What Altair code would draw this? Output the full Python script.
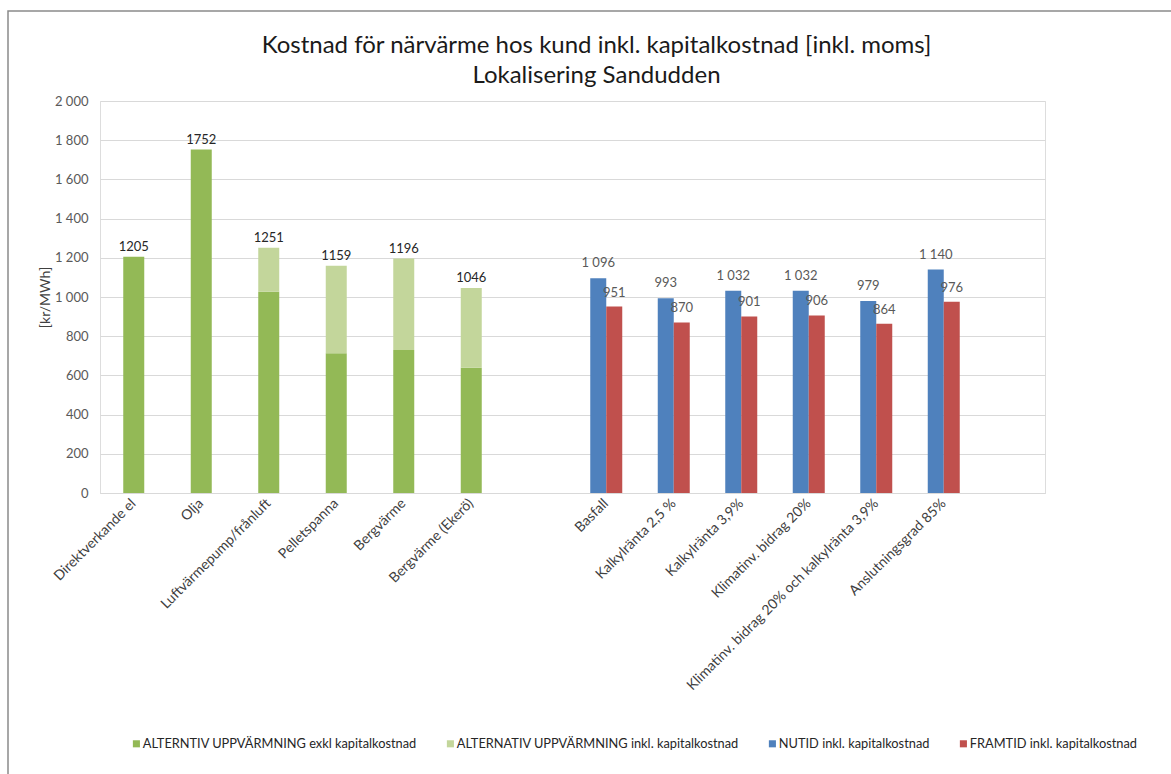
import altair as alt
import pandas as pd

# ---- data ----
left_cats = ["Direktverkande el", "Olja", "Luftvärmepump/frånluft", "Pelletspanna",
             "Bergvärme", "Bergvärme (Ekerö)"]
left_exkl = [1205, 1752, 1027, 713, 730, 639]
left_total = [1205, 1752, 1251, 1159, 1196, 1046]

right_cats = ["Basfall", "Kalkylränta 2,5 %", "Kalkylränta 3,9%", "Klimatinv. bidrag 20%",
              "Klimatinv. bidrag 20% och kalkylränta 3,9%", "Anslutningsgrad 85%"]
nutid = [1096, 993, 1032, 1032, 979, 1140]
framtid = [951, 870, 901, 906, 864, 976]

series_names = ["ALTERNTIV UPPVÄRMNING exkl kapitalkostnad",
                "ALTERNATIV UPPVÄRMNING inkl. kapitalkostnad",
                "NUTID inkl. kapitalkostnad",
                "FRAMTID inkl. kapitalkostnad"]
series_colors = ["#93B956", "#C3D69B", "#4F81BD", "#C0504D"]

y_ticks = [0, 200, 400, 600, 800, 1000, 1200, 1400, 1600, 1800, 2000]

slot_domain = left_cats + [" "] + right_cats + ["  "]

FONT = "Liberation Sans Narrow, Lato, sans-serif"
LFONT = "Lato, sans-serif"

green_dark = pd.DataFrame({"cat": left_cats, "lo": [0] * 6, "hi": left_exkl, "series": series_names[0]})
green_light = pd.DataFrame({"cat": left_cats, "lo": left_exkl, "hi": left_total, "series": series_names[1]})
blue = pd.DataFrame({"cat": right_cats, "lo": [0] * 6, "hi": nutid, "series": series_names[2]})
red = pd.DataFrame({"cat": right_cats, "lo": [0] * 6, "hi": framtid, "series": series_names[3]})

x_enc = alt.X("cat:N", sort=slot_domain,
              scale=alt.Scale(domain=slot_domain, paddingInner=0, paddingOuter=0),
              axis=alt.Axis(title=None, labelAngle=-45, labelAlign="right", labelBaseline="middle",
                            labelFont=LFONT, labelFontSize=14, labelColor="#404040",
                            labelPadding=8, ticks=False, domainColor="#d9d9d9", domainWidth=1,
                            grid=False, labelLimit=400))
y_enc = alt.Y("hi:Q", scale=alt.Scale(domain=[0, 2000], nice=False),
              axis=alt.Axis(title="[kr/MWh]", values=y_ticks,
                            labelExpr="replace(format(datum.value, ','), ',', ' ')",
                            labelFont=LFONT, labelFontSize=13, labelColor="#595959",
                            labelPadding=12, ticks=False, domain=False,
                            gridColor="#d9d9d9", gridWidth=1,
                            titleFont=LFONT, titleFontSize=14, titleFontWeight="normal",
                            titleColor="#404040", titlePadding=2))
color_enc = alt.Color("series:N",
                      scale=alt.Scale(domain=series_names, range=series_colors),
                      legend=alt.Legend(title=None, orient="none", legendX=30, legendY=636,
                                        direction="horizontal", columns=4, columnPadding=27,
                                        symbolType="square", symbolSize=50, symbolStrokeWidth=0,
                                        labelFont=FONT, labelFontSize=12.8, labelColor="#262626",
                                        labelLimit=400, labelOffset=0))

frame = alt.Chart(pd.DataFrame({"k": [0]})).mark_rect(
    fillOpacity=0, stroke="#8a8a8a", strokeWidth=1.5
).encode(x=alt.value(-92), x2=alt.value(1090), y=alt.value(-90), y2=alt.value(700))

b_dark = alt.Chart(green_dark).mark_bar(width=21).encode(x=x_enc, y=y_enc, y2="lo:Q", color=color_enc)
b_light = alt.Chart(green_light).mark_bar(width=21).encode(x=x_enc, y=y_enc, y2="lo:Q", color=color_enc)
b_blue = alt.Chart(blue).mark_bar(width=16, xOffset=-8).encode(x=x_enc, y=y_enc, y2="lo:Q", color=color_enc)
b_red = alt.Chart(red).mark_bar(width=16, xOffset=8).encode(x=x_enc, y=y_enc, y2="lo:Q", color=color_enc)

t_green = alt.Chart(pd.DataFrame({"cat": left_cats, "hi": left_total})).mark_text(
    baseline="bottom", dy=-3, font=LFONT, fontSize=13, color="#262626"
).encode(x=x_enc, y=y_enc, text=alt.Text("hi:Q", format="d"))

t_blue = alt.Chart(blue).transform_calculate(
    lab="replace(format(datum.hi, ','), ',', ' ')"
).mark_text(baseline="bottom", dy=-8, dx=-8, font=LFONT, fontSize=13, color="#595959"
).encode(x=x_enc, y=y_enc, text="lab:N")

t_red = alt.Chart(red).transform_calculate(
    lab="replace(format(datum.hi, ','), ',', ' ')"
).mark_text(baseline="bottom", dy=-7, dx=8, font=LFONT, fontSize=13, color="#595959"
).encode(x=x_enc, y=y_enc, text="lab:N")

chart = alt.layer(frame, b_dark, b_light, b_blue, b_red, t_green, t_blue, t_red).properties(
    width=945, height=392,
    autosize=alt.AutoSizeParams(type="none"),
    padding={"left": 100, "top": 101, "right": 126, "bottom": 281},
    title=alt.TitleParams(
        text=["Kostnad för närvärme hos kund inkl. kapitalkostnad [inkl. moms]",
              "Lokalisering Sandudden"],
        font=FONT, fontSize=24, fontWeight="normal", color="#1a1a1a",
        anchor="middle", frame="group", dx=24, dy=92, offset=14, lineHeight=30),
).configure_view(stroke=None).configure(background="white")

chart.save("out.html", embed_options={"renderer": "svg", "actions": False})
